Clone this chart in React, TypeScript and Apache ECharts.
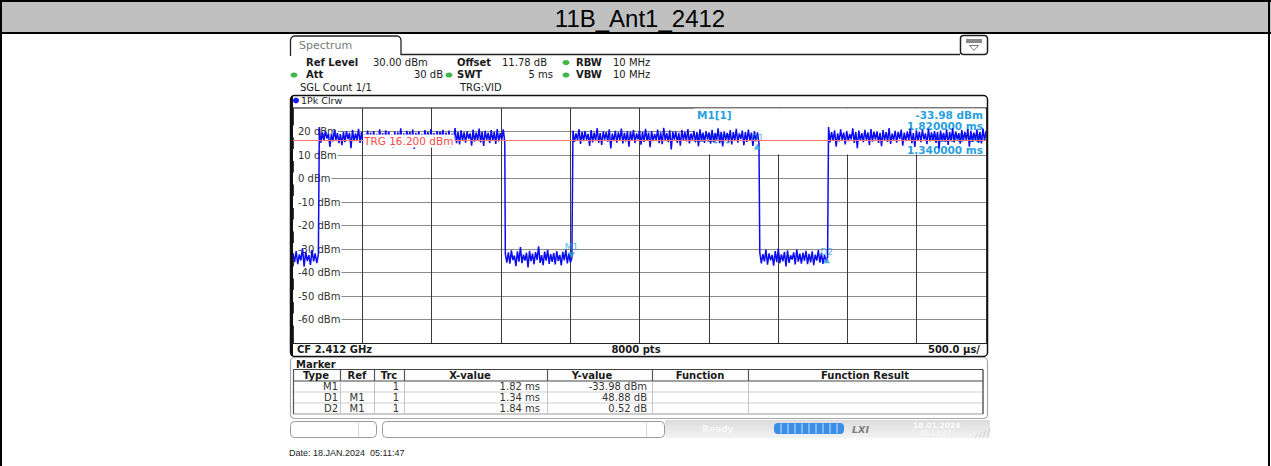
import React, { useEffect, useRef } from 'react';
import * as echarts from 'echarts';

// ---------- data ----------
const TITLE = '11B_Ant1_2412';
const TIME_MIN = 0;
const TIME_MAX = 5; // ms, 500 µs/div
const TIME_STEP = 0.5;
const LEVEL_MIN = -70;
const LEVEL_MAX = 30;
const LEVEL_STEP = 10;
const TRG_LEVEL = 16.2;
const TRIGGER_OFFSET_MS = 0.19; // display position of marker time zero

// trace segments: [start ms, end ms] and read-off levels (dBm)
const SEG_TIMES = [
  [0, 0.183],
  [0.19, 1.528],
  [1.532, 2.012],
  [2.02, 3.362],
  [3.368, 3.857],
  [3.864, 5.0],
];
const LOW0 = [-31.8, -35.6, -30.9, -36.4, -32.3, -34.9, -29.6, -37.5, -31.2, -35.1, -32.6, -36.8, -30.4, -35.3, -31.9, -36.0, -32.4];
const HIGH1 = [
  21.8, 15.2, 19.6, 16.1, 20.3, 17.0, 19.1, 13.4, 18.9, 15.8,
  20.6, 16.4, 19.3, 15.1, 18.9, 14.2, 19.8, 15.5, 20.1, 16.8,
  19.4, 12.9, 20.7, 15.9, 19.2, 16.3, 21.1, 15.1, 19.7, 14.6,
  18.8, 16.2, 20.4, 15.7, 19.5, 13.8, 20.2, 16.5, 19.0, 15.3,
  20.9, 16.0, 19.3, 14.9, 20.5, 15.6, 19.9, 16.7, 18.7, 13.1,
  20.0, 15.4, 19.6, 16.1, 21.3, 15.0, 19.2, 14.4, 20.3, 16.6,
  19.8, 15.8, 20.8, 12.6, 19.4, 16.2, 20.1, 15.5, 19.0, 14.1,
  20.6, 16.4, 19.7, 15.2, 21.0, 16.0, 19.3, 13.6, 20.2, 15.9,
  19.9, 16.8, 20.7, 14.8, 19.5, 15.6, 20.4, 13.2, 19.1, 16.3,
  21.5, 15.0, 19.8, 14.5, 20.5, 16.1, 19.6, 15.3, 20.0, 16.9,
  19.2, 14.0, 20.8, 15.7, 19.5, 16.2, 21.2, 15.4, 19.9, 13.9,
  20.3, 16.5, 19.4, 15.1, 20.6, 16.0, 19.7, 14.7, 21.0, 15.8,
  19.3, 16.4, 20.9, 15.5,
];
const LOW1 = [
  -32.1, -35.8, -31.4, -36.2, -30.6, -34.7, -32.8, -37.3, -31.0, -35.4,
  -29.2, -36.0, -32.4, -34.9, -31.6, -37.8, -30.8, -35.2, -32.0, -36.5,
  -31.3, -34.6, -28.9, -35.9, -32.6, -36.9, -31.1, -35.0, -30.4, -36.3,
  -32.2, -35.5, -31.7, -36.6, -30.9, -35.1, -32.5, -37.0, -31.2, -34.8,
  -30.3, -36.1, -32.0, -35.7, -33.98,
];
const HIGH2 = [
  20.4, 15.6, 19.2, 16.3, 21.0, 14.7, 19.8, 15.9, 20.2, 16.5,
  19.0, 13.9, 20.6, 15.4, 19.5, 16.1, 21.4, 15.2, 19.3, 14.3,
  20.0, 16.6, 19.7, 15.7, 20.9, 12.8, 19.1, 16.0, 20.3, 15.3,
  19.6, 16.4, 21.2, 14.9, 19.4, 15.8, 20.1, 13.5, 19.9, 16.2,
  20.7, 15.1, 19.2, 16.7, 20.4, 14.4, 19.8, 15.6, 21.1, 16.0,
  19.5, 13.3, 20.2, 15.9, 19.0, 16.3, 20.8, 15.0, 19.6, 14.6,
  21.6, 16.1, 19.3, 15.5, 20.5, 12.4, 19.9, 16.5, 20.0, 15.2,
  19.4, 14.0, 20.6, 16.2, 19.7, 15.8, 21.0, 14.9, 19.1, 16.4,
  20.3, 15.4, 19.8, 13.7, 20.9, 16.0, 19.5, 15.1, 20.2, 16.6,
  19.6, 14.8, 20.7, 15.5, 19.3, 16.2, 21.3, 15.0, 19.9, 13.6,
  20.1, 16.4, 19.4, 15.7, 20.6, 14.5, 19.8, 16.1, 21.1, 15.3,
  19.2, 16.8, 20.4, 14.2, 19.7, 15.6, 20.8, 16.0, 19.5, 13.9,
  20.2, 15.8, 19.6, 15.0,
];
const LOW2 = [
  -31.5, -36.1, -32.2, -35.3, -30.2, -36.7, -31.9, -34.8, -32.5, -37.1,
  -30.9, -35.6, -29.8, -36.0, -32.3, -35.2, -31.2, -37.4, -30.6, -35.9,
  -32.7, -34.5, -31.4, -36.6, -30.1, -35.4, -32.0, -36.2, -31.6, -35.0,
  -30.8, -36.4, -32.1, -35.7, -31.0, -36.9, -32.4, -34.9, -30.5, -35.8,
  -31.8, -36.3, -32.6, -35.1, -33.46,
];
const HIGH3 = [
  21.9, 15.4, 19.7, 16.2, 20.5, 13.6, 19.2, 15.8, 20.9, 16.4,
  19.5, 14.5, 20.2, 15.9, 19.0, 16.6, 21.3, 15.1, 19.8, 12.9,
  20.4, 16.0, 19.3, 15.5, 20.7, 16.3, 19.6, 14.2, 21.0, 15.7,
  19.9, 16.5, 20.1, 15.2, 19.4, 13.8, 20.6, 16.1, 19.7, 15.6,
  21.5, 14.7, 19.1, 16.4, 20.3, 15.3, 19.8, 16.8, 20.8, 14.0,
  19.5, 15.9, 20.0, 16.2, 21.2, 15.0, 19.3, 13.4, 20.5, 16.0,
  19.9, 15.5, 20.7, 16.6, 19.2, 14.6, 21.1, 15.8, 19.6, 16.3,
  20.2, 15.1, 19.8, 12.7, 20.4, 16.0, 19.4, 15.6, 20.9, 14.3,
  19.7, 16.1, 21.4, 15.4, 20.0, 16.7, 19.3, 14.8, 20.6, 15.9,
  19.8, 16.2, 21.0, 13.5, 20.3, 15.6, 19.5, 16.4, 20.8, 15.2,
  19.9, 14.9, 21.2, 16.0, 20.1,
];
const SEG_VALUES = [LOW0, HIGH1, LOW1, HIGH2, LOW2, HIGH3];

// marker table
const MARKER_TYPES = ['M1', 'D1', 'D2'];
const MARKER_REFS = ['', 'M1', 'M1'];
const MARKER_TRC = [1, 1, 1];
const MARKER_X_MS = [1.82, 1.34, 1.84];
const MARKER_Y = [-33.98, 48.88, 0.52];
const MARKER_UNITS = ['dBm', 'dB', 'dB'];

const TABLE_HEADERS = ['Type', 'Ref', 'Trc', 'X-value', 'Y-value', 'Function', 'Function Result'];

// ---------- helpers for chrome ----------
const FONT = '"DejaVu Sans", Verdana, sans-serif';
const txt = (text: string, x: number, y: number, o: any = {}) => ({
  type: 'text',
  x,
  y,
  z: o.z ?? 5,
  silent: true,
  style: {
    text,
    fill: o.fill ?? '#1a1a1a',
    font: `${o.italic ? 'italic ' : ''}${o.bold ? 'bold ' : ''}${o.size ?? 10}px ${o.family ?? FONT}`,
    textAlign: o.align ?? 'left',
    textVerticalAlign: 'middle',
    backgroundColor: o.bg,
    padding: o.pad,
  },
});
const ln = (x1: number, y1: number, x2: number, y2: number, stroke = '#222', lineWidth = 1, z = 5) => ({
  type: 'line',
  z,
  silent: true,
  shape: { x1, y1, x2, y2 },
  style: { stroke, lineWidth },
});
const rc = (x: number, y: number, width: number, height: number, o: any = {}) => ({
  type: 'rect',
  z: o.z ?? 5,
  silent: true,
  shape: { x, y, width, height, r: o.r ?? 0 },
  style: { fill: o.fill ?? 'none', stroke: o.stroke ?? 'none', lineWidth: o.lw ?? 1 },
});
const dot = (cx: number, cy: number, fill: string) => ({
  type: 'ellipse',
  z: 5,
  silent: true,
  shape: { cx, cy, rx: 3.5, ry: 2.6 },
  style: { fill },
});

export default function App() {
  const ref = useRef<HTMLDivElement>(null);

  useEffect(() => {
    if (!ref.current) return;
    const chart = echarts.init(ref.current, undefined, { renderer: 'svg' });

    // trace points: each segment's samples spread over its time span
    const trace: number[][] = [];
    SEG_VALUES.forEach((vals, s) => {
      const [t0, t1] = SEG_TIMES[s];
      vals.forEach((v, i) => {
        trace.push([t0 + ((t1 - t0) * i) / (vals.length - 1), v]);
      });
    });

    // marker positions (delta markers relative to M1)
    const m1x = MARKER_X_MS[0];
    const m1y = MARKER_Y[0];
    const markerPts = MARKER_TYPES.map((name, i) => {
      const x = i === 0 ? m1x : m1x + MARKER_X_MS[i];
      const y = i === 0 ? m1y : m1y + MARKER_Y[i];
      const isRef = i === 0;
      return {
        name,
        value: [x + TRIGGER_OFFSET_MS, y],
        symbolRotate: isRef ? 180 : 0,
        symbolOffset: isRef ? [0, -3] : [0, 3],
      };
    });

    const blue = '#2a9fe0';
    const G: any[] = [];

    // outer report frame
    G.push(rc(0, 0, 1271, 34, { fill: '#c0c0c0', z: 1 }));
    G.push(ln(0, 1, 1271, 1, '#000', 2));
    G.push(ln(0, 33, 1271, 33, '#000', 2));
    G.push(ln(1, 0, 1, 466, '#000', 2));
    G.push(ln(1269, 0, 1269, 466, '#000', 2));
    G.push(txt(TITLE, 640, 18.5, { size: 24, family: '"Liberation Sans", Arial, sans-serif', align: 'center', fill: '#000' }));

    // tab
    G.push({
      type: 'polyline',
      z: 5,
      silent: true,
      shape: {
        points: [[290.5, 56], [290.5, 40], [291.1, 38], [292.5, 36.6], [294.5, 36], [397, 36], [399, 36.6], [400.4, 38], [401, 40], [401, 54.5], [960, 54.5]],
      },
      style: { stroke: '#222', lineWidth: 1.3, fill: 'none' },
    });
    G.push(txt('Spectrum', 299, 45.5, { size: 11, fill: '#7a7a7a' }));
    G.push(rc(960.5, 35.5, 27, 19, { r: 3, stroke: '#222', lw: 1.5, fill: '#fff' }));
    G.push(rc(966, 39, 16, 4, { fill: '#8a8a8a' }));
    G.push({ type: 'polygon', z: 6, silent: true, shape: { points: [[969.5, 45.5], [978.5, 45.5], [974, 50.5]] }, style: { fill: 'none', stroke: '#777', lineWidth: 1 } });

    // settings rows
    G.push(txt('Ref Level', 306, 62, { bold: true }));
    G.push(txt('30.00 dBm', 373, 62));
    G.push(txt('Offset', 457, 62, { bold: true }));
    G.push(txt('11.78 dB', 502, 62));
    G.push(dot(566, 62.5, '#43b64a'));
    G.push(txt('RBW', 576, 62, { bold: true }));
    G.push(txt('10 MHz', 613, 62));
    G.push(dot(294, 75, '#43b64a'));
    G.push(txt('Att', 306, 74.5, { bold: true }));
    G.push(txt('30 dB', 443, 74.5, { align: 'right' }));
    G.push(dot(449, 75, '#43b64a'));
    G.push(txt('SWT', 457, 74.5, { bold: true }));
    G.push(txt('5 ms', 553, 74.5, { align: 'right' }));
    G.push(dot(566, 75, '#43b64a'));
    G.push(txt('VBW', 576, 74.5, { bold: true }));
    G.push(txt('10 MHz', 613, 74.5));
    G.push(txt('SGL Count 1/1', 300, 87.5));
    G.push(txt('TRG:VID', 460, 87.5));

    // plot panel
    G.push(rc(290.5, 95.5, 697, 261, { r: 4, stroke: '#111', lw: 1.5 }));
    G.push(ln(292, 96, 292, 356, '#111', 2));
    G.push({ type: 'circle', z: 5, silent: true, shape: { cx: 296, cy: 100.5, r: 3 }, style: { fill: '#1a1aff' } });
    G.push(txt('1Pk Clrw', 301, 100.5, { size: 9.5 }));
    G.push(ln(291, 107.5, 987, 107.5, '#777', 1, 0));
    G.push(ln(291, 343.5, 987, 343.5, '#222', 1.2, 5));
    G.push(txt('CF 2.412 GHz', 297, 349.5, { bold: true }));
    G.push(txt('8000 pts', 636, 349.5, { bold: true, align: 'center' }));
    G.push(txt('500.0 µs/', 980, 349.5, { bold: true, align: 'right' }));

    // marker info box (under the trace)
    G.push(rc(694, 108.5, 291, 46, { fill: '#fff', z: 1 }));
    const infoFont = { bold: true, size: 10.5, fill: blue, z: 1 };
    G.push(txt(`${MARKER_TYPES[0]}[${MARKER_TRC[0]}]`, 697, 114.5, infoFont));
    G.push(txt(`${MARKER_Y[0].toFixed(2)} ${MARKER_UNITS[0]}`, 983, 114.5, { ...infoFont, align: 'right' }));
    G.push(txt(`${MARKER_X_MS[0].toFixed(6)} ms`, 983, 126, { ...infoFont, align: 'right' }));
    G.push(txt(`${MARKER_TYPES[1]}[${MARKER_TRC[1]}]`, 697, 138, infoFont));
    G.push(txt(`${MARKER_Y[1].toFixed(2)} ${MARKER_UNITS[1]}`, 983, 138, { ...infoFont, align: 'right' }));
    G.push(txt(`${MARKER_X_MS[1].toFixed(6)} ms`, 983, 149.5, { ...infoFont, align: 'right' }));

    // trigger label (over the trace)
    G.push(txt(`TRG ${TRG_LEVEL.toFixed(3)} dBm`, 363, 141, { size: 10.5, fill: '#ff4a4a', bg: '#fff', pad: [1, 1, 1, 1], z: 10 }));

    // marker table panel
    G.push(rc(290.5, 357.5, 697, 61, { r: 4, stroke: '#a8a8a8', lw: 1.2 }));
    G.push(txt('Marker', 296, 364, { bold: true }));
    const colX = [293, 340, 374, 404, 547, 652, 748, 983];
    const hTop = 369.5;
    const hBot = 381;
    const rowLines = [392, 403, 414];
    G.push(rc(293.5, hTop, 689.5, rowLines[2] - hTop, { stroke: '#9a9a9a' }));
    G.push(ln(293.5, hTop, 983, hTop, '#444', 1.2));
    G.push(ln(293.5, hBot, 983, hBot, '#444', 1.2));
    rowLines.slice(0, 2).forEach((y) => G.push(ln(294, y, 983, y, '#cfcfcf', 1)));
    colX.slice(1, -1).forEach((x) => {
      G.push(ln(x + 0.5, hTop, x + 0.5, hBot, '#555', 1.2));
      G.push(ln(x + 0.5, hBot + 0.5, x + 0.5, rowLines[2], '#c4c4c4', 1));
    });
    G.push(ln(293.5, hTop, 293.5, rowLines[2], '#555', 1.2));
    G.push(ln(983, hTop, 983, rowLines[2], '#555', 1.2));
    const headerCx = [316, 357, 389, 470, 592, 700, 865];
    TABLE_HEADERS.forEach((h, i) => G.push(txt(h, headerCx[i], (hTop + hBot) / 2, { bold: true, align: 'center' })));
    const rowY = [386.8, 397.6, 408.5];
    MARKER_TYPES.forEach((t, i) => {
      const y = rowY[i];
      G.push(txt(t, 338, y, { align: 'right', fill: '#333' }));
      if (MARKER_REFS[i]) G.push(txt(MARKER_REFS[i], 357, y, { align: 'center', fill: '#333' }));
      G.push(txt(String(MARKER_TRC[i]), 399, y, { align: 'right', fill: '#333' }));
      G.push(txt(`${MARKER_X_MS[i].toFixed(2)} ms`, 540, y, { align: 'right', fill: '#333' }));
      G.push(txt(`${MARKER_Y[i].toFixed(2)} ${MARKER_UNITS[i]}`, 647, y, { align: 'right', fill: '#333' }));
    });

    // status bar
    G.push(rc(290.5, 421.5, 86, 16, { r: 4, stroke: '#9a9a9a', fill: '#fff' }));
    G.push(ln(358.5, 422, 358.5, 437, '#d8d8d8'));
    G.push(rc(382.5, 421.5, 282, 16, { r: 4, stroke: '#9a9a9a', fill: '#fff' }));
    G.push(ln(646.5, 422, 646.5, 437, '#d8d8d8'));
    G.push({
      type: 'rect',
      z: 4,
      silent: true,
      shape: { x: 665, y: 420, width: 325, height: 18 },
      style: {
        fill: new echarts.graphic.LinearGradient(0, 0, 0, 1, [
          { offset: 0, color: '#dcdcdc' },
          { offset: 1, color: '#f3f3f3' },
        ]),
      },
    });
    G.push(txt('Ready', 702, 428.5, { bold: true, size: 9, fill: '#f7f7f7' }));
    G.push(rc(774, 423, 70, 11, { r: 4, fill: '#3b8fe8' }));
    [781, 788, 795, 802, 809, 816, 823, 830, 837].forEach((x) => G.push(ln(x, 423.5, x, 433.5, '#cfe4fb', 1, 6)));
    G.push(txt('LXI', 852, 429, { bold: true, italic: true, size: 9.5, fill: '#7c7c7c' }));
    G.push(txt('18.01.2024', 913, 425, { bold: true, size: 7.5, fill: '#fafafa' }));
    G.push(txt('05:11:47', 920, 433, { size: 7, fill: '#fafafa' }));
    [975, 979, 983, 987].forEach((x) => G.push(ln(x, 438, x + 3, 434 - (x - 975) * 0.5, '#cfcfcf', 1, 6)));

    // date footer
    G.push(txt('Date: 18.JAN.2024  05:11:47', 289, 452.5, { size: 9, family: '"Liberation Sans", Arial, sans-serif', fill: '#222' }));

    const option: any = {
      animation: false,
      backgroundColor: '#ffffff',
      grid: { left: 293, top: 108, width: 693, height: 235, show: false },
      xAxis: {
        type: 'value',
        min: TIME_MIN,
        max: TIME_MAX,
        interval: TIME_STEP,
        axisLine: { show: false },
        axisTick: { show: false },
        axisLabel: { show: false },
        splitLine: { show: true, lineStyle: { color: '#3a3a3a', width: 1 } },
      },
      yAxis: {
        type: 'value',
        min: LEVEL_MIN,
        max: LEVEL_MAX,
        interval: LEVEL_STEP,
        axisLine: { show: false },
        axisTick: { show: false },
        axisLabel: {
          inside: true,
          margin: 0,
          showMinLabel: false,
          showMaxLabel: false,
          formatter: (v: number) => `${v} dBm`,
          color: '#333',
          fontSize: 10,
          fontFamily: 'DejaVu Sans',
          backgroundColor: '#fff',
          padding: [1, 1, 1, 5],
        },
        splitLine: { show: true, lineStyle: { color: '#8c8c8c', width: 1 } },
      },
      series: [
        {
          type: 'line',
          name: '1Pk Clrw',
          data: trace,
          showSymbol: false,
          symbol: 'none',
          z: 2,
          lineStyle: { color: '#0c0cf2', width: 1.5 },
          markLine: {
            silent: true,
            symbol: ['none', 'none'],
            label: { show: false },
            lineStyle: { color: '#ff7272', width: 1, type: 'solid' },
            data: [{ yAxis: TRG_LEVEL }],
          },
        },
        {
          type: 'scatter',
          name: 'markers',
          z: 4,
          data: markerPts,
          symbol: 'triangle',
          symbolSize: [7, 6],
          itemStyle: { color: blue },
          label: {
            show: true,
            formatter: '{b}',
            position: 'top',
            distance: 1,
            color: blue,
            fontSize: 9,
            fontFamily: 'DejaVu Sans',
          },
        },
      ],
      graphic: { elements: G },
    };
    chart.setOption(option);
    return () => chart.dispose();
  }, []);

  return <div ref={ref} style={{ position: 'absolute', left: 0, top: 0, width: 1271, height: 466 }} />;
}
